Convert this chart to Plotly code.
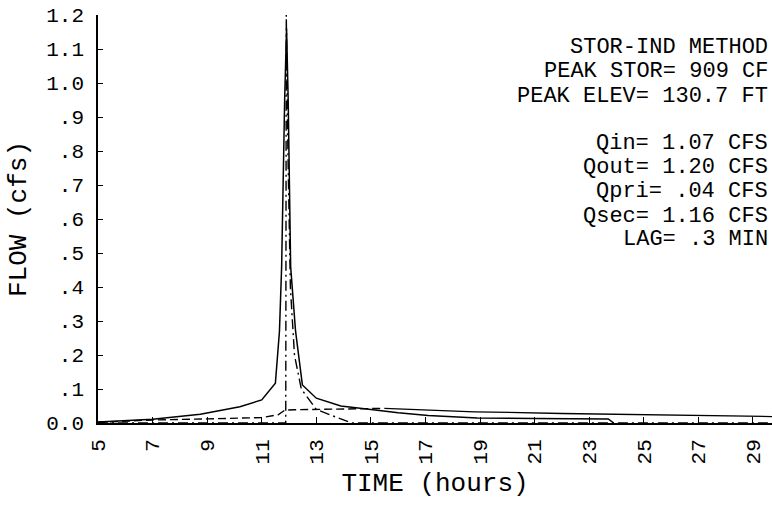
import plotly.graph_objects as go

# ---- data ----
time_in = [5.0, 7.0, 8.75, 10.2, 11.0, 11.3, 11.5, 11.65, 11.73, 11.84, 11.91, 11.97, 12.06, 12.24, 12.49,
           13.0, 13.9, 15.0, 16.0, 17.1, 18.9, 21.0, 23.7, 23.9]
q_in = [0.003, 0.011, 0.026, 0.048, 0.068, 0.097, 0.117, 0.27, 0.46, 0.95, 1.16, 0.95, 0.46, 0.27, 0.112,
        0.073, 0.05, 0.04, 0.03, 0.022, 0.015, 0.013, 0.012, 0.0]

time_out = [5.0, 11.88, 11.9, 11.96, 12.05, 12.2, 12.45, 13.0, 13.7, 14.3, 29.7]
q_out = [0.0, 0.0, 1.2, 0.8, 0.4, 0.2, 0.1, 0.04, 0.018, 0.0, 0.0]

time_pri = [5.0, 7.0, 9.0, 10.2, 11.0, 11.6, 11.85, 12.2, 13.0, 14.0, 15.0, 15.5, 17.0, 18.8, 22.0, 24.9, 27.0, 29.7]
q_pri = [0.002, 0.009, 0.012, 0.014, 0.016, 0.024, 0.038, 0.039, 0.04, 0.041, 0.042, 0.043, 0.038, 0.033,
         0.028, 0.025, 0.022, 0.019]

x_ticks = [5, 7, 9, 11, 13, 15, 17, 19, 21, 23, 25, 27, 29]
x_ticktext = [str(v) for v in x_ticks]
y_ticks = [0.0, 0.1, 0.2, 0.3, 0.4, 0.5, 0.6, 0.7, 0.8, 0.9, 1.0, 1.1, 1.2]
y_ticktext = ["0.0", ".1", ".2", ".3", ".4", ".5", ".6", ".7", ".8", ".9", "1.0", "1.1", "1.2"]

info_lines = ["STOR-IND METHOD", "PEAK STOR= 909 CF", "PEAK ELEV= 130.7 FT",
              "Qin= 1.07 CFS", "Qout= 1.20 CFS", "Qpri= .04 CFS", "Qsec= 1.16 CFS", "LAG= .3 MIN"]
info_ypx = [47, 72, 97, 143, 167, 191, 216, 239]

FONT = "Liberation Mono"
W, H = 772, 524
ML, MR, MT, MB = 98, 0, 15, 101
plot_h = H - MT - MB
plot_w = W - ML - MR

fig = go.Figure()
fig.add_trace(go.Scatter(x=time_in, y=q_in, mode="lines",
                         line=dict(color="black", width=1.5), showlegend=False))
fig.add_trace(go.Scatter(x=time_out, y=q_out, mode="lines",
                         line=dict(color="black", width=1.4, dash="10px,4px,2px,4px"), showlegend=False))
split = time_pri.index(15.5)
fig.add_trace(go.Scatter(x=time_pri[:split + 1], y=q_pri[:split + 1], mode="lines",
                         line=dict(color="black", width=1.4, dash="8px,4px"), showlegend=False))
fig.add_trace(go.Scatter(x=time_pri[split:], y=q_pri[split:], mode="lines",
                         line=dict(color="black", width=1.3), showlegend=False))

for txt, ypx in zip(info_lines, info_ypx):
    fig.add_annotation(text=txt, xref="paper", yref="paper",
                       x=(770 - ML) / plot_w, y=(H - MB - ypx) / plot_h,
                       xanchor="right", yanchor="middle", showarrow=False,
                       font=dict(family=FONT, size=22, color="black"))

fig.update_layout(
    width=W, height=H,
    margin=dict(l=ML, r=MR, t=MT, b=MB),
    paper_bgcolor="white", plot_bgcolor="white",
    font=dict(family=FONT, color="black"),
    xaxis=dict(range=[5, 29.7], tickmode="array", tickvals=x_ticks, ticktext=x_ticktext,
               tickangle=-90, ticks="inside", ticklen=6, tickwidth=1.3, tickcolor="black",
               showline=True, linecolor="black", linewidth=1.6, showgrid=False, zeroline=False,
               tickfont=dict(family=FONT, size=21, color="black"), ticklabelstandoff=6,
               title=dict(text="TIME (hours)", font=dict(family=FONT, size=26, color="black"), standoff=9)),
    yaxis=dict(range=[0, 1.2], tickmode="array", tickvals=y_ticks, ticktext=y_ticktext,
               ticks="inside", ticklen=5, tickwidth=1.3, tickcolor="black",
               showline=True, linecolor="black", linewidth=1.6, showgrid=False, zeroline=False,
               tickfont=dict(family=FONT, size=21, color="black"), ticklabelstandoff=8,
               title=dict(text="FLOW (cfs)", font=dict(family=FONT, size=26, color="black"), standoff=12)),
)

fig.write_html("out.html")
